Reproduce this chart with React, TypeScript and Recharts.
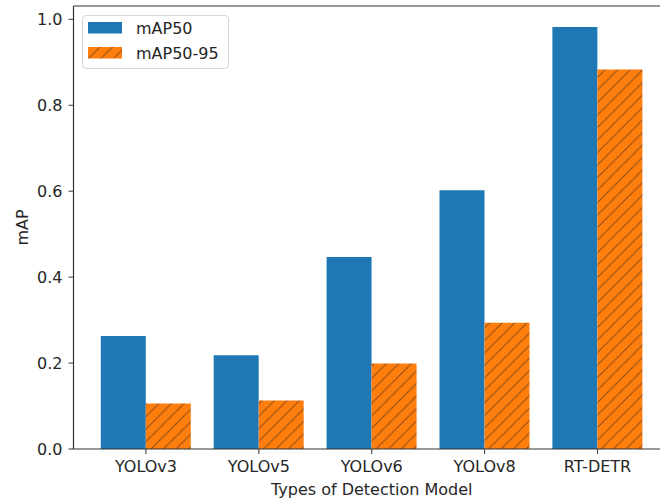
import React from 'react';
import { BarChart, Bar, XAxis, YAxis, Legend, ReferenceLine } from 'recharts';

const categories = ['YOLOv3', 'YOLOv5', 'YOLOv6', 'YOLOv8', 'RT-DETR'];
const map50 = [0.263, 0.218, 0.447, 0.602, 0.982];
const map5095 = [0.106, 0.113, 0.199, 0.294, 0.883];
const yTicks = [0, 0.2, 0.4, 0.6, 0.8, 1.0];
const yMax = 1.031;

const seriesNames = ['mAP50', 'mAP50-95'];

const data = categories.map((c, i) => ({ name: c, mAP50: map50[i], 'mAP50-95': map5095[i] }));

const BLUE = '#1f77b4';
const ORANGE = '#ff7f0e';
const HATCH = '#8c4a12';
const AXIS = '#333333';
const TEXT = '#262626';
const FONT = '"DejaVu Sans", Verdana, sans-serif';

const HatchDefs = ({ id }: { id: string }) => (
  <defs>
    <pattern id={id} patternUnits="userSpaceOnUse" width={12.5} height={12.5}>
      <rect x={0} y={0} width={12.5} height={12.5} fill={ORANGE} />
      <path
        d="M0,12.5 L12.5,0 M-3.125,3.125 L3.125,-3.125 M9.375,15.625 L15.625,9.375"
        stroke={HATCH}
        strokeWidth={1}
      />
    </pattern>
  </defs>
);

const LegendBox = () => (
  <div
    style={{
      width: 147,
      height: 54,
      boxSizing: 'border-box',
      border: '1px solid #d6d6d6',
      borderRadius: 4,
      background: 'rgba(255,255,255,0.85)',
      position: 'relative',
    }}
  >
    <svg width={147} height={54} style={{ position: 'absolute', left: -1, top: -1 }}>
      <HatchDefs id="hatchLegend" />
      <rect x={6} y={7} width={34} height={11.5} fill={BLUE} />
      <rect x={6} y={32} width={34} height={11.5} fill="url(#hatchLegend)" />
      <text x={54} y={18.5} fontFamily={FONT} fontSize={16} fill={TEXT}>
        {seriesNames[0]}
      </text>
      <text x={54} y={43.5} fontFamily={FONT} fontSize={16} fill={TEXT}>
        {seriesNames[1]}
      </text>
    </svg>
  </div>
);

const YLabel = (props: any) => {
  const vb = props.viewBox || {};
  const cy = (vb.y || 0) + (vb.height || 0) / 2;
  const x = (vb.x || 0) + 28;
  return (
    <text
      x={x}
      y={cy}
      transform={`rotate(-90, ${x}, ${cy})`}
      textAnchor="middle"
      fontFamily={FONT}
      fontSize={16}
      fill={TEXT}
    >
      mAP
    </text>
  );
};

export default function App() {
  return (
    <div style={{ position: 'absolute', left: 0, top: 0, width: 660, height: 501, overflow: 'hidden', background: '#fff' }}>
      <BarChart
        width={700}
        height={501}
        data={data}
        margin={{ top: 6, right: 30, bottom: 0, left: 0 }}
        barCategoryGap="10%"
        barGap={0}
      >
        <HatchDefs id="hatchBar" />
        <XAxis
          dataKey="name"
          height={52}
          padding={{ left: 16, right: 16 }}
          tickSize={5}
          tickMargin={7}
          axisLine={{ stroke: AXIS, strokeWidth: 1.2 }}
          tickLine={{ stroke: AXIS }}
          tick={{ fill: TEXT, fontSize: 16, fontFamily: FONT }}
          label={{ value: 'Types of Detection Model', position: 'insideBottom', offset: 6, fill: TEXT, fontSize: 16, fontFamily: FONT }}
        />
        <YAxis
          width={73.5}
          domain={[0, yMax]}
          ticks={yTicks}
          allowDataOverflow
          tickFormatter={(v: number) => v.toFixed(1)}
          tickSize={5}
          tickMargin={6}
          axisLine={{ stroke: AXIS, strokeWidth: 1.2 }}
          tickLine={{ stroke: AXIS }}
          tick={{ fill: TEXT, fontSize: 16, fontFamily: FONT }}
          label={<YLabel />}
        />
        <ReferenceLine y={yMax} stroke={AXIS} strokeWidth={1.2} />
        <Legend
          layout="vertical"
          align="center"
          verticalAlign="middle"
          content={<LegendBox />}
          wrapperStyle={{ left: 82, top: 15, width: 147, height: 54 }}
        />
        <Bar dataKey="mAP50" name={seriesNames[0]} fill={BLUE} isAnimationActive={false} />
        <Bar dataKey="mAP50-95" name={seriesNames[1]} fill="url(#hatchBar)" isAnimationActive={false} />
      </BarChart>
    </div>
  );
}
